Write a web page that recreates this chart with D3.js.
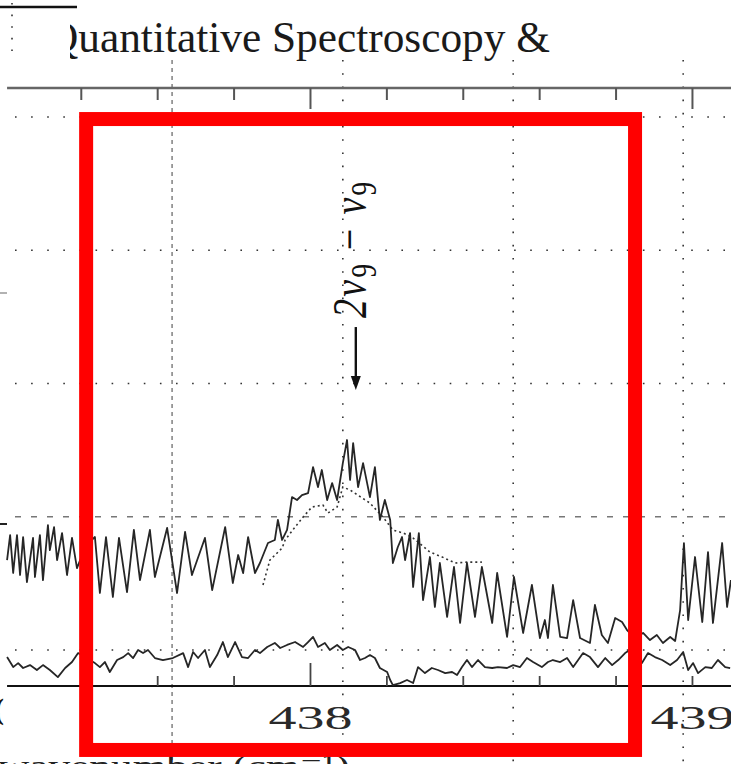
<!DOCTYPE html>
<html lang="en">
<head>
<meta charset="UTF-8">
<title>2ν9 − ν9 band near 438 cm-1</title>
<script src="https://d3js.org/d3.v7.min.js"></script>
<style>
  html, body { margin: 0; padding: 0; background: #fff; overflow: hidden; }
  svg { display: block; }
  .serif { font-family: 'Liberation Serif', 'DejaVu Serif', serif; }
  .trace { fill: none; stroke: #262626; stroke-width: 1.8; stroke-linejoin: round; }
</style>
</head>
<body>
<div id="chart"></div>
<script>
const width = 731, height = 764;

// measured spectrum (wavenumber, arbitrary intensity)
const upperWn = [437.207,437.215,437.223,437.233,437.241,437.249,437.259,437.275,437.280,437.293,
  437.301,437.314,437.319,437.330,437.338,437.351,437.364,437.377,437.390,437.414,
  437.437,437.450,437.466,437.484,437.500,437.521,437.539,437.555,437.581,437.594,
  437.626,437.652,437.673,437.691,437.725,437.744,437.778,437.798,437.812,437.825,
  437.838,437.856,437.869,437.890,437.908,437.916,437.927,437.940,437.953,437.966,
  437.979,437.995,438.008,438.021,438.031,438.045,438.058,438.071,438.086,438.097,
  438.105,438.113,438.126,438.139,438.157,438.170,438.183,438.196,438.210,438.217,
  438.230,438.241,438.249,438.262,438.270,438.285,438.296,438.314,438.327,438.340,
  438.359,438.377,438.393,438.411,438.432,438.450,438.477,438.490,438.516,438.534,
  438.558,438.581,438.602,438.615,438.623,438.636,438.655,438.673,438.689,438.707,
  438.733,438.746,438.764,438.780,438.799,438.817,438.830,438.851,438.872,438.890,
  438.908,438.924,438.943,438.956,438.969,438.979,438.990,439.008,439.027,439.042,
  439.055,439.079,439.092,439.102];
const upperVal = [16.75,18.63,15.78,18.63,15.63,18.48,15.10,18.41,15.48,18.63,
  15.25,19.38,17.50,19.23,16.75,18.78,15.63,18.41,16.15,17.88,
  18.48,14.28,18.48,13.98,18.41,14.35,19.01,15.25,19.01,15.48,
  19.16,14.28,18.86,15.63,18.41,14.50,19.23,15.03,17.13,15.78,
  18.48,15.78,16.53,18.03,18.26,19.76,18.26,19.01,21.48,21.26,
  21.63,21.78,23.73,22.23,23.51,21.26,22.53,21.26,24.03,25.76,
  22.76,25.53,22.23,24.03,21.48,23.73,19.76,21.26,19.76,16.53,
  17.73,18.48,16.75,18.78,14.73,18.78,13.75,16.98,13.23,16.53,
  12.48,16.23,12.03,16.53,12.48,16.23,12.03,15.78,10.98,15.48,
  11.28,14.88,10.90,12.25,10.90,14.88,10.98,10.90,13.75,10.90,
  10.53,13.38,11.13,10.53,12.40,12.10,11.50,10.90,11.28,10.75,
  11.13,10.53,10.98,10.68,13.00,18.03,12.25,16.98,12.10,17.35,
  12.03,18.03,13.23,15.25];

// lower (difference) trace
const lowerWn = [437.207,437.223,437.236,437.249,437.267,437.285,437.301,437.319,437.340,437.359,
  437.377,437.393,437.414,437.437,437.450,437.463,437.476,437.495,437.511,437.524,
  437.537,437.550,437.563,437.576,437.594,437.615,437.641,437.668,437.681,437.694,
  437.707,437.725,437.738,437.757,437.772,437.785,437.804,437.822,437.838,437.856,
  437.869,437.888,437.908,437.922,437.940,437.961,437.982,437.995,438.008,438.021,
  438.039,438.052,438.071,438.086,438.100,438.118,438.131,438.144,438.157,438.170,
  438.183,438.202,438.210,438.217,438.236,438.254,438.270,438.283,438.301,438.319,
  438.335,438.354,438.372,438.385,438.398,438.411,438.424,438.440,438.458,438.477,
  438.492,438.516,438.532,438.550,438.568,438.584,438.607,438.623,438.636,438.655,
  438.673,438.689,438.702,438.715,438.733,438.754,438.773,438.791,438.807,438.825,
  438.846,438.869,438.885,438.903,438.922,438.943,438.961,438.977,438.990,439.003,
  439.016,439.035,439.052,439.068,439.087,439.100];
const lowerVal = [9.47,8.72,9.02,8.65,8.87,8.50,8.87,8.50,7.97,8.65,
  9.10,9.77,9.40,9.02,8.72,9.10,8.35,9.25,9.47,9.77,
  9.40,10.00,9.77,10.00,9.40,9.25,9.40,9.77,8.72,9.85,
  9.40,10.00,8.72,9.62,10.60,9.47,10.60,9.47,9.40,10.00,
  9.77,10.23,10.53,10.15,10.38,10.60,10.23,10.60,10.98,10.23,
  10.53,10.00,10.38,10.00,10.23,10.00,9.25,9.40,9.62,9.40,
  8.65,8.35,7.75,7.37,7.52,7.75,7.52,8.72,8.27,8.65,
  8.50,8.27,8.35,8.12,8.72,9.25,8.72,9.25,8.72,8.65,
  8.72,8.65,8.87,8.72,9.40,9.10,8.72,9.10,9.25,9.10,
  9.40,8.72,9.25,9.77,9.47,8.72,9.40,8.87,9.25,9.77,
  10.15,9.02,9.77,9.47,9.25,8.87,9.25,9.85,8.50,9.02,
  8.27,8.72,8.65,9.25,8.72,8.65];

// dotted model curve
const modelWn = [437.877,437.895,437.914,437.927,437.935,437.961,437.982,438.005,
  438.034,438.047,438.071,438.086,438.105,438.157,438.191,438.217,438.244,438.267,
  438.314,438.346,438.380,438.411,438.450];
const modelVal = [14.88,16.75,17.28,17.65,18.26,19.23,19.98,20.73,
  20.88,20.28,20.73,22.23,22.01,21.03,19.98,19.01,18.78,18.48,
  17.35,16.98,16.53,16.60,16.60];

const minorTicks = [437.4, 437.6, 437.8, 438.2, 438.4, 438.6, 438.8];
const majorTicks = [438, 439];
const gridWn = [437.639, 438.086, 438.532, 438.977];
const gridVal = [10, 20, 30, 40, 50];
const bandWn = 438.12, arrowFrom = 34.24, arrowTo = 29.51;
const boxWn = [437.414, 438.851], boxVal = [2.50, 49.85];

const svg = d3.select("#chart").append("svg")
  .attr("width", width)
  .attr("height", height);

const x = d3.scaleLinear().domain([437.1885, 439.1022]).range([0, width]);
const y = d3.scaleLinear().domain([7.3, 52.18]).range([686, 88]);

// grid from the overlaid figure
svg.append("g").selectAll("line")
  .data(gridVal)
  .enter().append("line")
  .attr("x1", 15).attr("x2", width)
  .attr("y1", d => y(d)).attr("y2", d => y(d))
  .attr("stroke", d => d === 20 ? "#777" : "#333")
  .attr("stroke-width", 1.6)
  .attr("stroke-dasharray", d => d === 20 ? "6,10" : "1.6,14.5");

svg.append("g").selectAll("line")
  .data(gridWn)
  .enter().append("line")
  .attr("x1", d => x(d)).attr("x2", d => x(d))
  .attr("y1", 60).attr("y2", height)
  .attr("stroke", (d, i) => i === 0 ? "#888" : "#333")
  .attr("stroke-width", 1.6)
  .attr("stroke-dasharray", (d, i) => i === 0 ? "4,4" : "1.6,11.6");

svg.append("line")
  .attr("x1", 12).attr("x2", 12).attr("y1", 3).attr("y2", 58)
  .attr("stroke", "#333").attr("stroke-width", 1.6).attr("stroke-dasharray", "1.6,10");
svg.append("line")
  .attr("x1", 0).attr("x2", 77).attr("y1", 7).attr("y2", 7)
  .attr("stroke", "#111").attr("stroke-width", 2.5);

// header text, partly hidden on the left
svg.append("clipPath").attr("id", "headClip")
  .append("rect").attr("x", 70).attr("y", 0).attr("width", width).attr("height", 80);
svg.append("text")
  .attr("class", "serif")
  .attr("clip-path", "url(#headClip)")
  .attr("x", 47).attr("y", 52)
  .attr("font-size", 45)
  .attr("fill", "#1a1a1a")
  .attr("textLength", 503)
  .attr("lengthAdjust", "spacingAndGlyphs")
  .text("Quantitative Spectroscopy &");

// top frame axis
svg.append("line")
  .attr("x1", x(437.207)).attr("x2", width)
  .attr("y1", y(52.18)).attr("y2", y(52.18))
  .attr("stroke", "#666").attr("stroke-width", 2.5);
const topMinor = svg.append("g").attr("transform", `translate(0,${y(52.18)})`)
  .call(d3.axisBottom(x).tickValues(minorTicks).tickSize(12).tickFormat(""));
const topMajor = svg.append("g").attr("transform", `translate(0,${y(52.18)})`)
  .call(d3.axisBottom(x).tickValues(majorTicks).tickSize(21).tickFormat(""));
[topMinor, topMajor].forEach(g => {
  g.select(".domain").remove();
  g.selectAll("line").attr("stroke", "#555").attr("stroke-width", 2);
});

// bottom axis
svg.append("line")
  .attr("x1", x(437.207)).attr("x2", width)
  .attr("y1", y(7.3)).attr("y2", y(7.3))
  .attr("stroke", "#111").attr("stroke-width", 2);
const botMinor = svg.append("g").attr("transform", `translate(0,${y(7.3)})`)
  .call(d3.axisTop(x).tickValues(minorTicks.concat([439])).tickSize(10).tickFormat(""));
const botMajor = svg.append("g").attr("transform", `translate(0,${y(7.3)})`)
  .call(d3.axisTop(x).tickValues([438]).tickSize(23).tickFormat(""));
[botMinor, botMajor].forEach(g => {
  g.select(".domain").remove();
  g.selectAll("line").attr("stroke", "#444").attr("stroke-width", 1.8);
});
const labels = svg.append("g").attr("transform", `translate(0,${y(7.3)})`)
  .call(d3.axisBottom(x).tickValues(majorTicks).tickSize(0).tickPadding(19).tickFormat(d3.format("d")));
labels.select(".domain").remove();
labels.selectAll("text")
  .attr("class", "serif")
  .attr("font-size", 34)
  .attr("fill", "#2a2a2a")
  .attr("textLength", 84)
  .attr("lengthAdjust", "spacingAndGlyphs");

svg.append("text")
  .attr("class", "serif")
  .attr("x", -2).attr("y", 777)
  .attr("font-size", 32)
  .attr("fill", "#222")
  .attr("textLength", 352)
  .attr("lengthAdjust", "spacingAndGlyphs")
  .text("wavenumber (cm⁻¹)");

// fragments of the y axis of the scan
svg.append("line").attr("x1", 0).attr("x2", 7).attr("y1", 293).attr("y2", 293)
  .attr("stroke", "#999").attr("stroke-width", 1.5);
svg.append("line").attr("x1", 0).attr("x2", 7).attr("y1", 524).attr("y2", 524)
  .attr("stroke", "#222").attr("stroke-width", 2);
svg.append("text").attr("class", "serif")
  .attr("x", -6).attr("y", 719).attr("font-size", 30).attr("font-weight", "bold")
  .attr("fill", "#111").text("(");

// spectra
const line = d3.line().x(d => x(d[0])).y(d => y(d[1]));

svg.append("path")
  .attr("class", "trace")
  .attr("d", line(d3.zip(lowerWn, lowerVal)));

svg.append("path")
  .attr("fill", "none")
  .attr("stroke", "#333")
  .attr("stroke-width", 1.6)
  .attr("stroke-dasharray", "2,3")
  .attr("d", line(d3.zip(modelWn, modelVal)));

svg.append("path")
  .attr("class", "trace")
  .attr("d", line(d3.zip(upperWn, upperVal)));

// band assignment arrow
const ax = x(bandWn);
svg.append("line")
  .attr("x1", ax).attr("x2", ax)
  .attr("y1", y(arrowFrom)).attr("y2", y(arrowTo) - 10)
  .attr("stroke", "#111").attr("stroke-width", 2.4);
svg.append("path")
  .attr("d", `M${ax - 5},${y(arrowTo) - 14}L${ax + 5},${y(arrowTo) - 14}L${ax},${y(arrowTo)}Z`)
  .attr("fill", "#111");

const lab = svg.append("text")
  .attr("class", "serif")
  .attr("transform", `translate(${ax + 10},${y(34.92)}) rotate(-90) scale(1,1.3)`)
  .attr("font-size", 38)
  .attr("font-style", "italic")
  .attr("fill", "#111")
  .attr("textLength", 136)
  .attr("lengthAdjust", "spacing");
lab.append("tspan").text("2ν");
lab.append("tspan").attr("dy", 8).attr("font-size", 27).attr("font-style", "normal").text("9");
lab.append("tspan").attr("dy", -8).attr("font-style", "normal").text(" − ");
lab.append("tspan").text("ν");
lab.append("tspan").attr("dy", 8).attr("font-size", 27).attr("font-style", "normal").text("9");

// red highlight box
svg.append("rect")
  .attr("x", x(boxWn[0])).attr("y", y(boxVal[1]))
  .attr("width", x(boxWn[1]) - x(boxWn[0]))
  .attr("height", y(boxVal[0]) - y(boxVal[1]))
  .attr("fill", "none")
  .attr("stroke", "#ff0000")
  .attr("stroke-width", 14);
</script>
</body>
</html>
